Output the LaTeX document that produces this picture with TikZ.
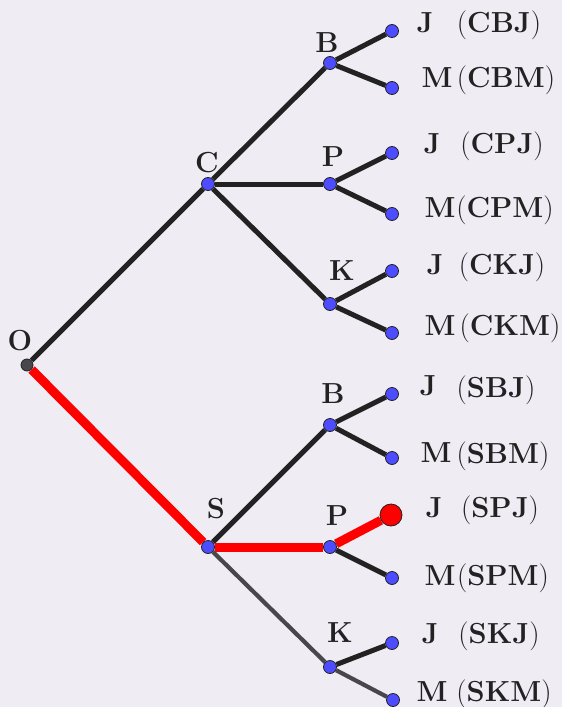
\documentclass[tikz,border=0pt]{standalone}
\usetikzlibrary{backgrounds}
\definecolor{bgcol}{HTML}{EFECF4}
\definecolor{ink}{HTML}{222222}
\definecolor{greyline}{HTML}{48474C}
\definecolor{dotblue}{HTML}{4D4DFF}
\definecolor{hired}{HTML}{FF0000}
\tikzset{
  dot/.style={circle,fill=dotblue,draw=ink,line width=0.8pt,minimum size=13pt,inner sep=0pt},
  rootdot/.style={circle,fill=greyline,draw=ink,line width=0.8pt,minimum size=12pt,inner sep=0pt},
  reddot/.style={circle,fill=hired,draw=ink,line width=0.8pt,minimum size=22pt,inner sep=0pt},
  branch/.style={draw=ink,line width=5pt},
  greybranch/.style={draw=greyline,line width=4.2pt},
  redbranch/.style={draw=hired,line width=9pt},
  lbl/.style={text=ink,inner sep=0pt,font=\fontsize{29}{33}\selectfont,text height=21.5pt,text depth=7pt},
}
\begin{document}
\begin{tikzpicture}[x=1pt,y=-1pt]
\useasboundingbox (0,0) rectangle (562,707);

% vertices of the tree
\node[rootdot] (O) at (27,365) {};
\node[dot] (C) at (208,184) {};
\node[dot] (S) at (208,547) {};
\node[dot] (CB) at (330,63) {};
\node[dot] (CP) at (330,184) {};
\node[dot] (CK) at (330,304) {};
\node[dot] (SB) at (330,425) {};
\node[dot] (SP) at (330,547) {};
\node[dot] (SK) at (330,667) {};
\node[dot] (CBJ) at (392,31) {};
\node[dot] (CBM) at (392,88) {};
\node[dot] (CPJ) at (392,153) {};
\node[dot] (CPM) at (392,214) {};
\node[dot] (CKJ) at (392,271) {};
\node[dot] (CKM) at (392,333) {};
\node[dot] (SBJ) at (392,394) {};
\node[dot] (SBM) at (392,458) {};
\node[reddot] (SPJ) at (391,515) {};
\node[dot] (SPM) at (392,578) {};
\node[dot] (SKJ) at (392,643) {};
\node[dot] (SKM) at (393,700) {};

% backdrop and branches, behind the vertices
\begin{scope}[on background layer]
\fill[bgcol] (0,0) rectangle (562,707);
\draw[branch] (O) -- (C);
\draw[redbranch] (O) -- (S);
\draw[branch] (C) -- (CB);
\draw[branch] (C) -- (CP);
\draw[branch] (C) -- (CK);
\draw[branch] (S) -- (SB);
\draw[redbranch] (S) -- (SP);
\draw[greybranch] (S) -- (SK);
\draw[branch] (CB) -- (CBJ);
\draw[branch] (CB) -- (CBM);
\draw[branch] (CP) -- (CPJ);
\draw[branch] (CP) -- (CPM);
\draw[branch] (CK) -- (CKJ);
\draw[branch] (CK) -- (CKM);
\draw[branch] (SB) -- (SBJ);
\draw[branch] (SB) -- (SBM);
\draw[redbranch] (SP) -- (SPJ);
\draw[branch] (SP) -- (SPM);
\draw[branch] (SK) -- (SKJ);
\draw[greybranch] (SK) -- (SKM);
\end{scope}

% vertex names
\node[lbl] (tO) at (20,343) {\textbf{O}};
\node[lbl] (tC) at (207,165) {\textbf{C}};
\node[lbl] (tS) at (216,511) {\textbf{S}};
\node[lbl] (tCB) at (327,45) {\textbf{B}};
\node[lbl] (tCP) at (333,159) {\textbf{P}};
\node[lbl] (tCK) at (342,273) {\textbf{K}};
\node[lbl] (tSB) at (333,396) {\textbf{B}};
\node[lbl] (tSP) at (337,518) {\textbf{P}};
\node[lbl] (tSK) at (340,635) {\textbf{K}};

% outcomes
\node[lbl] (lCBJ) at (425,25) {\textbf{J}};
\node[lbl] (pCBJ) at (499,25) {(\textbf{CBJ})};
\node[lbl] (lCBM) at (437,80) {\textbf{M}};
\node[lbl] (pCBM) at (506,80) {(\textbf{CBM})};
\node[lbl] (lCPJ) at (432,146) {\textbf{J}};
\node[lbl] (pCPJ) at (502,146) {(\textbf{CPJ})};
\node[lbl] (lCPM) at (440,210) {\textbf{M}};
\node[lbl] (pCPM) at (505,210) {(\textbf{CPM})};
\node[lbl] (lCKJ) at (435,267) {\textbf{J}};
\node[lbl] (pCKJ) at (502,267) {(\textbf{CKJ})};
\node[lbl] (lCKM) at (440,328) {\textbf{M}};
\node[lbl] (pCKM) at (510,328) {(\textbf{CKM})};
\node[lbl] (lSBJ) at (428,388) {\textbf{J}};
\node[lbl] (pSBJ) at (496,390) {(\textbf{SBJ})};
\node[lbl] (lSBM) at (436,455) {\textbf{M}};
\node[lbl] (pSBM) at (503,456) {(\textbf{SBM})};
\node[lbl] (lSPJ) at (434,510) {\textbf{J}};
\node[lbl] (pSPJ) at (500,510) {(\textbf{SPJ})};
\node[lbl] (lSPM) at (440,578) {\textbf{M}};
\node[lbl] (pSPM) at (503,578) {(\textbf{SPM})};
\node[lbl] (lSKJ) at (430,636) {\textbf{J}};
\node[lbl] (pSKJ) at (499,636) {(\textbf{SKJ})};
\node[lbl] (lSKM) at (432,694) {\textbf{M}};
\node[lbl] (pSKM) at (504,694) {(\textbf{SKM})};
\end{tikzpicture}
\end{document}
